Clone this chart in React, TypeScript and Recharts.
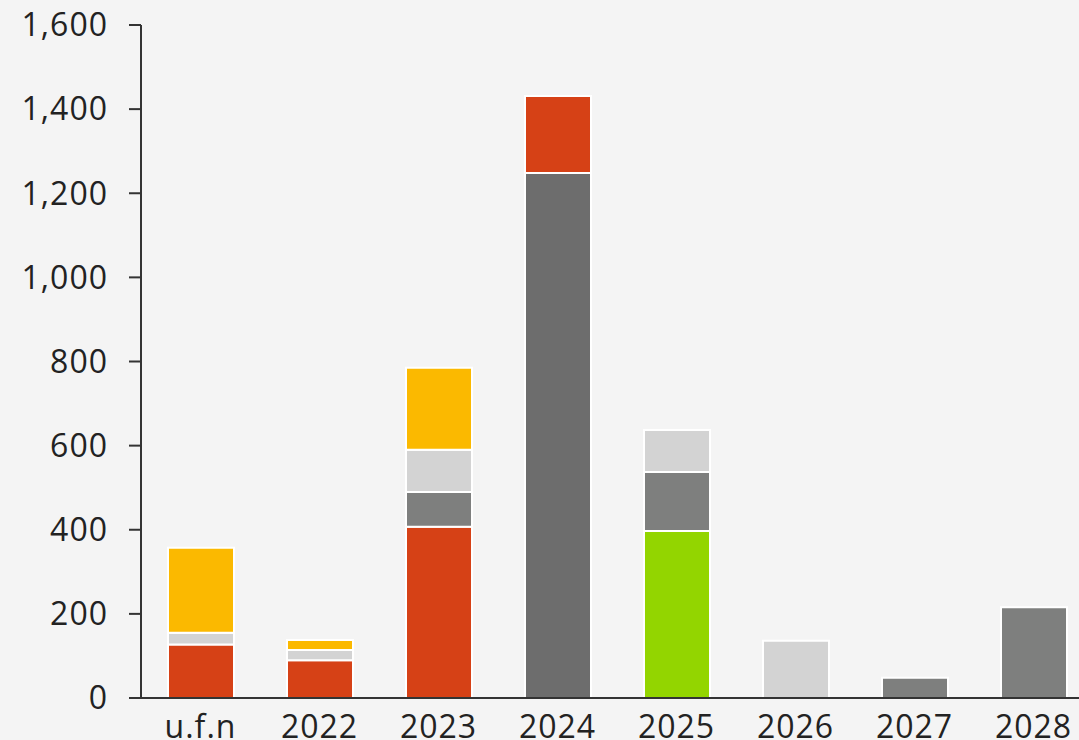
import React from "react";
import { BarChart, Bar, XAxis, YAxis } from "recharts";

const categories = ["u.f.n", "2022", "2023", "2024", "2025", "2026", "2027", "2028"];
const darkGray = [0, 0, 0, 1248, 0, 0, 0, 0];
const red = [127, 90, 407, 183, 0, 0, 0, 0];
const green = [0, 0, 0, 0, 397, 0, 0, 0];
const midGray = [0, 0, 83, 0, 140, 0, 48, 216];
const lightGray = [28, 24, 100, 0, 100, 136, 0, 0];
const yellow = [202, 24, 195, 0, 0, 0, 0, 0];
const yTicks = [0, 200, 400, 600, 800, 1000, 1200, 1400, 1600];

const data = categories.map((c, i) => ({
  cat: c,
  darkGray: darkGray[i],
  red: red[i],
  green: green[i],
  midGray: midGray[i],
  lightGray: lightGray[i],
  yellow: yellow[i],
}));

const series = [
  { key: "darkGray", color: "#6d6d6d" },
  { key: "red", color: "#d64116" },
  { key: "green", color: "#93d500" },
  { key: "midGray", color: "#7e7f7e" },
  { key: "lightGray", color: "#d3d3d3" },
  { key: "yellow", color: "#fbb900" },
];

const font = "'Open Sans', sans-serif";
const tickStyle = { fill: "#222", fontSize: 32, fontFamily: font, letterSpacing: 1 };

export default function App() {
  return (
    <div
      style={{
        position: "absolute",
        left: 0,
        top: 0,
        width: 1079,
        height: 740,
        overflow: "hidden",
        background: "#f4f4f4",
      }}
    >
      <BarChart
        width={1093}
        height={760}
        data={data}
        margin={{ top: 25, right: 0, bottom: 0, left: 0 }}
        barSize={66}
      >
        <YAxis
          width={141}
          domain={[0, 1600]}
          ticks={yTicks}
          interval={0}
          tickFormatter={(v: number) => v.toLocaleString("en-US")}
          axisLine={{ stroke: "#333", strokeWidth: 2 }}
          tickLine={{ stroke: "#333", strokeWidth: 2 }}
          tickSize={12}
          tickMargin={21}
          tick={tickStyle}
        />
        <XAxis
          dataKey="cat"
          height={62}
          axisLine={{ stroke: "#333", strokeWidth: 2 }}
          tickLine={false}
          tickSize={0}
          tickMargin={17}
          interval={0}
          tick={tickStyle}
        />
        {series.map((s) => (
          <Bar
            key={s.key}
            dataKey={s.key}
            stackId="a"
            fill={s.color}
            stroke="#ffffff"
            strokeWidth={2}
            isAnimationActive={false}
          />
        ))}
      </BarChart>
    </div>
  );
}
